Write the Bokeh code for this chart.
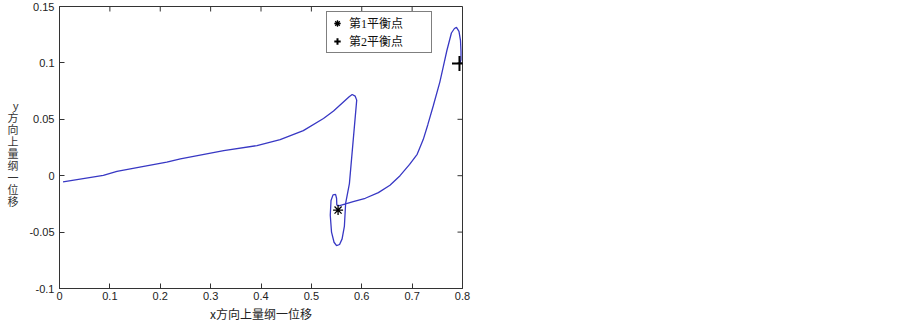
from bokeh.plotting import figure
from bokeh.models import (Range1d, FixedTicker, Legend, LegendItem)
from bokeh.embed import file_html
from bokeh.resources import INLINE

# ---------------- data ----------------
traj_x = [0.007, 0.087, 0.114, 0.170, 0.213, 0.240, 0.326, 0.392, 0.438, 0.484,
          0.524, 0.544, 0.575, 0.581, 0.587, 0.590, 0.5755, 0.568, 0.5655, 0.561,
          0.556, 0.550, 0.545, 0.540, 0.5375, 0.539, 0.543, 0.548, 0.550, 0.5505,
          0.556, 0.568, 0.583, 0.607, 0.633, 0.656, 0.676, 0.695, 0.710, 0.722,
          0.731, 0.742, 0.755, 0.762, 0.769, 0.778, 0.784, 0.788, 0.793, 0.796,
          0.797, 0.797, 0.795]
traj_y = [-0.0055, 0.0003, 0.0038, 0.0085, 0.012, 0.015, 0.0223, 0.0267, 0.032, 0.040,
          0.0507, 0.0574, 0.070, 0.072, 0.0705, 0.067, -0.007, -0.0246, -0.045, -0.056,
          -0.061, -0.062, -0.059, -0.050, -0.035, -0.022, -0.017, -0.0165, -0.020, -0.026,
          -0.0265, -0.025, -0.023, -0.020, -0.015, -0.0085, 0.0, 0.010, 0.019, 0.032,
          0.045, 0.062, 0.083, 0.097, 0.111, 0.1265, 0.1305, 0.1315, 0.128, 0.120,
          0.110, 0.103, 0.0995]

eq1_x = [0.553]
eq1_y = [-0.0305]
eq2_x = [0.794]
eq2_y = [0.0995]

legend_labels = ["第1平衡点", "第2平衡点"]

x_ticks = [0.0, 0.1, 0.2, 0.3, 0.4, 0.5, 0.6, 0.7, 0.8]
x_tick_labels = ["0", "0.1", "0.2", "0.3", "0.4", "0.5", "0.6", "0.7", "0.8"]
y_ticks = [-0.1, -0.05, 0.0, 0.05, 0.1, 0.15]
y_tick_labels = ["-0.1", "-0.05", "0", "0.05", "0.1", "0.15"]

x_title = "x方向上量纲一位移"
y_title = "y方向上量纲一位移"

# ---------------- figure ----------------
AX = "#333333"
TICK_FONT = "Liberation Sans"
CJK_FONT = "Noto Sans CJK SC"
FW, FH = 403, 282
TICK_LEN = 5

x0, x1 = 0.0, 0.8
y0, y1 = -0.1, 0.15

p = figure(frame_width=FW, frame_height=FH,
           x_range=Range1d(x0, x1), y_range=Range1d(y0, y1),
           output_backend="svg", toolbar_location=None,
           min_border_left=59, min_border_right=433,
           min_border_top=6, min_border_bottom=36)
p.outline_line_color = AX
p.outline_line_width = 1
p.grid.visible = False
p.background_fill_color = "white"
p.border_fill_color = "white"

def style_axis(ax):
    ax.axis_line_color = AX
    ax.axis_line_width = 1
    ax.major_tick_line_color = AX
    ax.major_tick_in = TICK_LEN
    ax.major_tick_out = 0
    ax.minor_tick_line_color = None
    ax.major_label_text_font = TICK_FONT
    ax.major_label_text_font_size = "11px"
    ax.major_label_text_color = "#222222"

xa = p.xaxis[0]
xa.ticker = FixedTicker(ticks=x_ticks)
xa.major_label_overrides = {t: s for t, s in zip(x_ticks, x_tick_labels)}
style_axis(xa)
xa.major_label_standoff = 3
xa.axis_label = x_title
xa.axis_label_text_font = CJK_FONT
xa.axis_label_text_font_size = "12px"
xa.axis_label_text_font_style = "normal"
xa.axis_label_text_color = "#222222"
xa.axis_label_standoff = 2

ya = p.yaxis[0]
ya.ticker = FixedTicker(ticks=y_ticks)
ya.major_label_overrides = {t: s for t, s in zip(y_ticks, y_tick_labels)}
style_axis(ya)
ya.major_label_standoff = 5
ya.axis_label_text_font = "'Liberation Sans', 'Noto Sans CJK SC'"
ya.axis_label_text_font_size = "11px"
ya.axis_label_text_font_style = "normal"
ya.axis_label_text_color = "#333333"
if "axis_label_orientation" in ya.properties():
    # vertical (stacked) title; the leading empty line nudges it down a little
    ya.axis_label = "\n" + "\n".join(y_title)
    ya.axis_label_orientation = "horizontal"
    ya.axis_label_text_line_height = 1.0
    ya.axis_label_standoff = 8
else:
    ya.axis_label = y_title
    ya.axis_label_standoff = 8

# inward ticks on the top and right edges of the box (MATLAB style)
dy = TICK_LEN * (y1 - y0) / FH
dx = TICK_LEN * (x1 - x0) / FW
p.segment(x0=x_ticks, y0=[y1] * len(x_ticks), x1=x_ticks, y1=[y1 - dy] * len(x_ticks),
          line_color=AX, line_width=1)
p.segment(x0=[x1] * len(y_ticks), y0=y_ticks, x1=[x1 - dx] * len(y_ticks), y1=y_ticks,
          line_color=AX, line_width=1)

# trajectory
p.line(traj_x, traj_y, line_color="#3838c4", line_width=1.3)

# equilibrium points
r1 = p.scatter(eq1_x, eq1_y, marker="asterisk", size=10,
               line_color="black", line_width=1.3)
r2 = p.scatter(eq2_x, eq2_y, marker="cross", size=15,
               line_color="black", line_width=2)

legend = Legend(items=[LegendItem(label=legend_labels[0], renderers=[r1]),
                       LegendItem(label=legend_labels[1], renderers=[r2])],
                location=(267, 235), margin=0, padding=2, spacing=0,
                glyph_width=16, glyph_height=16, label_height=16,
                label_width=80, label_standoff=4,
                label_text_font="'Liberation Serif', 'Noto Sans CJK SC'",
                label_text_font_size="12px", label_text_color="#111111",
                border_line_color="black", border_line_width=1,
                background_fill_color="white", background_fill_alpha=1)
p.add_layout(legend)

open("out.html", "w").write(file_html(p, INLINE))
